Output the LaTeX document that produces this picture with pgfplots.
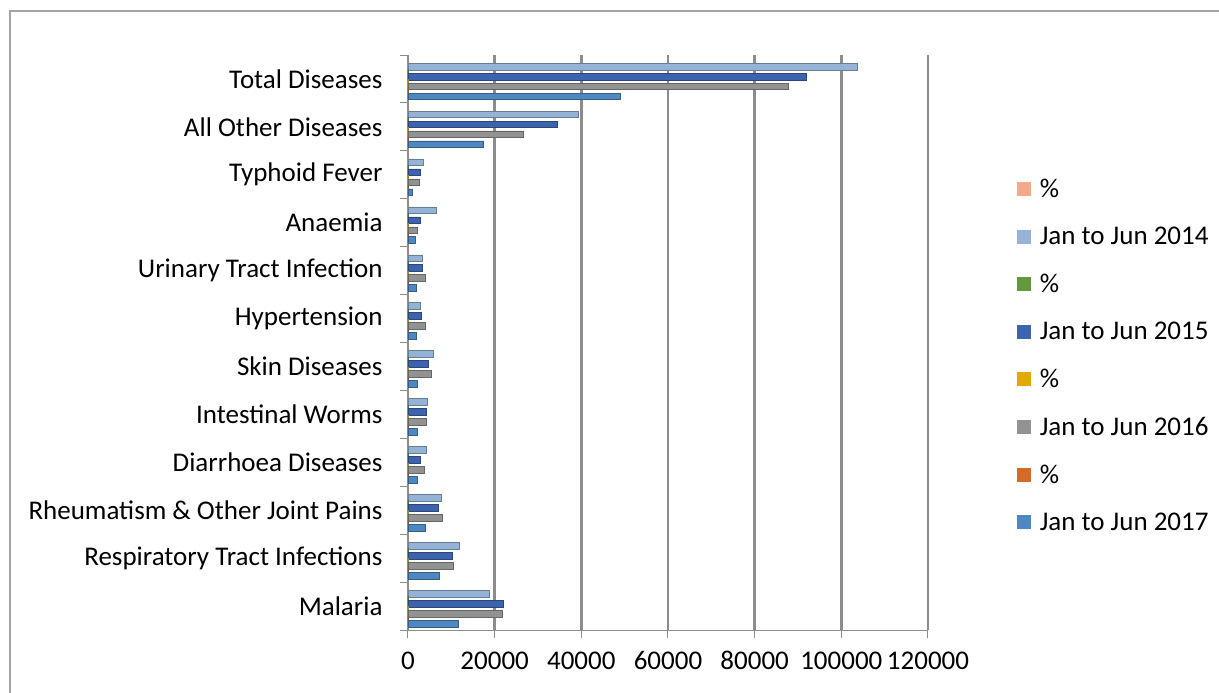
\documentclass[border=0pt]{standalone}
\usepackage{pgfplots}
\usepackage{pgfplotstable}
\pgfplotsset{compat=1.18}
\usepackage{fontspec}
\setmainfont{Carlito}

\definecolor{pctA}{HTML}{F4A98A}
\definecolor{yrA}{HTML}{95B3D7}
\definecolor{pctB}{HTML}{62993E}
\definecolor{yrB}{HTML}{3C64AE}
\definecolor{pctC}{HTML}{E2AA00}
\definecolor{yrC}{HTML}{929292}
\definecolor{pctD}{HTML}{D46B28}
\definecolor{yrD}{HTML}{4F88C0}
\definecolor{gridgray}{HTML}{8C8C8C}

% Cases per disease, January to June of each year, with share of the total (%)
\pgfplotstableread{
idx p14 v14 p15 v15 p16 v16 p17 v17
0  100  103800 100  92000 100  87800 100  49100
1  37.9 39300  37.5 34500 30.2 26500 35.5 17450
2  3.4  3500   3.0  2800  3.0  2600  2.2  1100
3  6.3  6500   3.0  2800  2.4  2150  3.3  1600
4  3.2  3300   3.7  3400  4.4  3900  4.1  2000
5  2.8  2900   3.3  3000  4.6  4000  4.1  2000
6  5.7  5900   5.2  4800  6.1  5330  4.6  2250
7  4.3  4470   4.7  4330  4.8  4250  4.6  2250
8  4.2  4330   3.0  2780  4.3  3780  4.4  2150
9  7.5  7800   7.6  7000  9.0  7900  8.4  4100
10 11.4 11800  11.2 10270 12.0 10500 14.8 7250
11 18.2 18840  23.9 21950 24.7 21700 23.8 11660
}\diseases

\begin{document}
\begin{tikzpicture}[font=\fontsize{27}{31}\selectfont]
\useasboundingbox (-408pt,-63pt) rectangle (811pt,630pt);
\draw[gridgray!80, line width=1.2pt] (-398pt,-63pt) -- (-398pt,619pt) -- (811pt,619pt);
\begin{axis}[
  at={(0pt,0pt)}, anchor=south west,
  scale only axis,
  width=520pt, height=575pt,
  xbar,
  y dir=reverse,
  xmin=0, xmax=120000,
  ymin=-0.5, ymax=11.5,
  axis lines*=left,
  axis line style={gridgray, line width=1pt},
  xtick={0,20000,...,120000},
  scaled x ticks=false,
  x tick label style={yshift=-10pt, /pgf/number format/fixed,
    /pgf/number format/1000 sep={}, /pgf/number format/assume math mode=true},
  xmajorgrids,
  major grid style={draw=gridgray, line width=2.4pt},
  tick style={gridgray, line width=1pt},
  tick align=outside,
  major tick length=8pt,
  ytick={0,...,11},
  yticklabels={Total Diseases, All Other Diseases, Typhoid Fever, Anaemia,
    Urinary Tract Infection, Hypertension, Skin Diseases, Intestinal Worms,
    Diarrhoea Diseases, Rheumatism \& Other Joint Pains,
    Respiratory Tract Infections, Malaria},
  y tick style={draw=none},
  y tick label style={xshift=-14pt},
  extra y ticks={-0.5,0.5,...,11.5},
  extra y tick labels={},
  extra y tick style={y tick style={draw=gridgray}, major tick length=8pt, grid=none},
  legend style={at={(1,0.5)}, anchor=west, xshift=86pt, yshift=-13pt,
    draw=none, fill=none, row sep=24pt,
    font=\fontsize{27}{31}\selectfont},
  legend cell align=left,
  legend image code/.code={\fill[#1, draw=none] (0pt,-7pt) rectangle (14pt,7pt);
    \path (20pt,0pt);},
  pct/.style={fill=#1, draw=#1!75!black, line width=1.2pt, bar width=0.07},
  yr/.style={fill=#1, draw=#1!70!black, line width=0.6pt, bar width=0.14},
]
\addplot[pct=pctA, bar shift=-0.364] table[x=p14, y=idx] {\diseases};
\addlegendentry{\%}
\addplot[yr=yrA, bar shift=-0.26] table[x=v14, y=idx] {\diseases};
\addlegendentry{Jan to Jun 2014}
\addplot[pct=pctB, bar shift=-0.156] table[x=p15, y=idx] {\diseases};
\addlegendentry{\%}
\addplot[yr=yrB, bar shift=-0.052] table[x=v15, y=idx] {\diseases};
\addlegendentry{Jan to Jun 2015}
\addplot[pct=pctC, bar shift=0.052] table[x=p16, y=idx] {\diseases};
\addlegendentry{\%}
\addplot[yr=yrC, bar shift=0.156] table[x=v16, y=idx] {\diseases};
\addlegendentry{Jan to Jun 2016}
\addplot[pct=pctD, bar shift=0.26] table[x=p17, y=idx] {\diseases};
\addlegendentry{\%}
\addplot[yr=yrD, bar shift=0.364] table[x=v17, y=idx] {\diseases};
\addlegendentry{Jan to Jun 2017}
\end{axis}
\end{tikzpicture}
\end{document}
